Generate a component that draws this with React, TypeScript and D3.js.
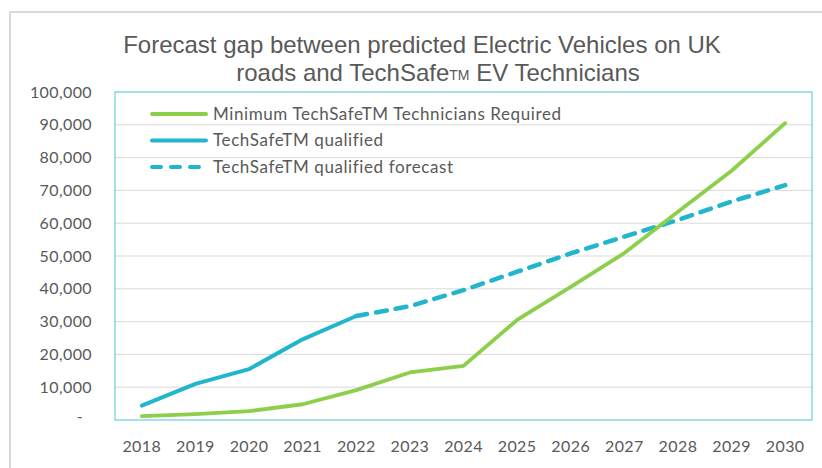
import { useEffect, useRef } from 'react'
import * as d3 from 'd3'

const years = ['2018', '2019', '2020', '2021', '2022', '2023', '2024', '2025', '2026', '2027', '2028', '2029', '2030']
const required = [1200, 1800, 2700, 4800, 9100, 14500, 16500, 30500, 40600, 50900, 63500, 76000, 90500]
const qualifiedYears = ['2018', '2019', '2020', '2021', '2022']
const qualified = [4400, 11000, 15500, 24600, 31700]
const forecastYears = ['2022', '2023', '2024', '2025', '2026', '2027', '2028', '2029', '2030']
const forecast = [31700, 34700, 39600, 45200, 50800, 55900, 61000, 66600, 71600]
const yTicks = [0, 10000, 20000, 30000, 40000, 50000, 60000, 70000, 80000, 90000, 100000]
const legendLabels = ['Minimum TechSafeTM Technicians Required', 'TechSafeTM qualified', 'TechSafeTM qualified forecast']

const GREEN = '#8dcf4a'
const TEAL = '#22b6cd'
const TEXT = '#595959'
const AXIS_FONT = 'Lato, "Open Sans", sans-serif'
const DASH = '11 9'

export default function App() {
  const svgRef = useRef<SVGSVGElement>(null)

  useEffect(() => {
    const svg = svgRef.current
    if (!svg) return
    const root = d3.select(svg)
    root.selectAll('*').remove()

    const W = 822, H = 468
    const plot = { left: 115, right: 812, top: 92, bottom: 420 }
    root.attr('width', W).attr('height', H)

    root.append('rect').attr('width', W).attr('height', H).attr('fill', '#fff')
    // outer chart border (only top/left visible in the crop)
    root.append('rect')
      .attr('x', 10).attr('y', 12).attr('width', W + 20).attr('height', H + 20)
      .attr('fill', 'none').attr('stroke', '#d9d9d9').attr('stroke-width', 2)

    // title
    const title = root.append('text')
      .attr('text-anchor', 'middle').attr('fill', TEXT)
      .attr('font-family', '"Liberation Sans", Arial, sans-serif').attr('font-size', 24)
    title.append('tspan').attr('x', 422).attr('y', 53)
      .text('Forecast gap between predicted Electric Vehicles on UK')
    const t2 = title.append('tspan').attr('x', 438).attr('y', 81)
    t2.append('tspan').text('roads and TechSafe')
    t2.append('tspan').attr('font-size', 14).attr('dy', -1).text('TM')
    t2.append('tspan').attr('dy', 1).text(' EV Technicians')

    const x = d3.scalePoint<string>().domain(years).range([plot.left, plot.right]).padding(0.5)
    const y = d3.scaleLinear().domain([0, 100000]).range([plot.bottom, plot.top])

    // gridlines
    root.append('g').selectAll('line').data(yTicks.slice(1, -1)).join('line')
      .attr('x1', plot.left).attr('x2', plot.right)
      .attr('y1', d => y(d)).attr('y2', d => y(d))
      .attr('stroke', '#d9d9d9').attr('stroke-width', 1)

    // y labels
    root.append('g').selectAll('text').data(yTicks).join('text')
      .attr('x', d => (d === 0 ? 83 : 92)).attr('y', d => y(d))
      .attr('dy', d => (d === 0 ? '0.1em' : '0.35em'))
      .attr('text-anchor', 'end').attr('fill', TEXT)
      .attr('font-family', AXIS_FONT).attr('font-size', 16).attr('letter-spacing', 0.4)
      .text(d => (d === 0 ? '-' : d3.format(',')(d)))

    // x labels
    root.append('g').selectAll('text').data(years).join('text')
      .attr('x', d => x(d)!).attr('y', 452)
      .attr('text-anchor', 'middle').attr('fill', TEXT)
      .attr('font-family', AXIS_FONT).attr('font-size', 16).attr('letter-spacing', 0.4)
      .text(d => d)

    // plot border
    root.append('rect')
      .attr('x', plot.left).attr('y', plot.top)
      .attr('width', plot.right - plot.left).attr('height', plot.bottom - plot.top)
      .attr('fill', 'none').attr('stroke', '#4cc3da').attr('stroke-width', 1)

    const line = d3.line<[string, number]>().x(d => x(d[0])!).y(d => y(d[1]))

    root.append('path').datum(d3.zip(forecastYears, forecast) as [string, number][])
      .attr('d', line).attr('fill', 'none').attr('stroke', TEAL).attr('stroke-width', 4.5)
      .attr('stroke-dasharray', DASH).attr('stroke-linecap', 'round').attr('stroke-linejoin', 'round')
    root.append('path').datum(d3.zip(qualifiedYears, qualified) as [string, number][])
      .attr('d', line).attr('fill', 'none').attr('stroke', TEAL).attr('stroke-width', 4)
      .attr('stroke-linecap', 'round').attr('stroke-linejoin', 'round')
    root.append('path').datum(d3.zip(years, required) as [string, number][])
      .attr('d', line).attr('fill', 'none').attr('stroke', GREEN).attr('stroke-width', 3.8)
      .attr('stroke-linecap', 'round').attr('stroke-linejoin', 'round')

    // legend
    const legendColors = [GREEN, TEAL, TEAL]
    const lg = root.append('g')
    legendLabels.forEach((label, i) => {
      const ly = 114 + i * 26.5
      lg.append('line')
        .attr('x1', 152).attr('x2', 206).attr('y1', ly).attr('y2', ly)
        .attr('stroke', legendColors[i]).attr('stroke-width', 4).attr('stroke-linecap', 'round')
        .attr('stroke-dasharray', i === 2 ? '9 10' : null)
      lg.append('text')
        .attr('x', 213).attr('y', ly).attr('dy', '0.35em')
        .attr('fill', TEXT).attr('font-family', AXIS_FONT).attr('font-size', 17)
        .attr('letter-spacing', 0.6)
        .text(label)
    })
  }, [])

  return (
    <div style={{ position: 'absolute', left: 0, top: 0 }}>
      <svg ref={svgRef} style={{ display: 'block' }} />
    </div>
  )
}
